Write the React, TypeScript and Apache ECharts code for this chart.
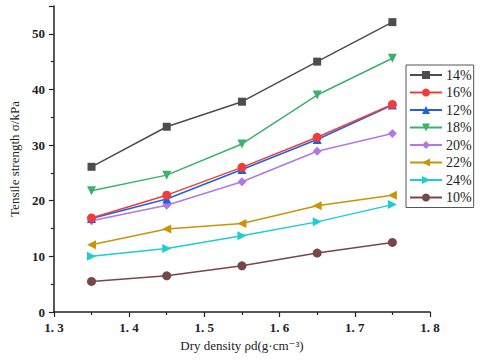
import React, { useEffect, useRef } from "react";
import * as echarts from "echarts";

const densities = [1.35, 1.45, 1.55, 1.65, 1.75];
const seriesNames = ["14%", "16%", "12%", "18%", "20%", "22%", "24%", "10%"];
const s14 = [26.1, 33.3, 37.8, 45.0, 52.1];
const s16 = [16.9, 21.0, 26.0, 31.4, 37.3];
const s12 = [16.8, 20.3, 25.6, 31.0, 37.2];
const s18 = [21.8, 24.6, 30.2, 39.0, 45.6];
const s20 = [16.4, 19.2, 23.4, 28.9, 32.1];
const s22 = [12.1, 14.9, 15.9, 19.1, 21.0];
const s24 = [10.0, 11.4, 13.7, 16.2, 19.3];
const s10 = [5.5, 6.5, 8.3, 10.6, 12.5];
const allValues = [s14, s16, s12, s18, s20, s22, s24, s10];
const colors = ["#4d4d4d", "#f23b3b", "#1f62e0", "#3cb06e", "#b277e6", "#c99507", "#1ccdd2", "#774747"];
const symbols = ["rect", "circle", "triangle", "triangle", "diamond", "triangle", "triangle", "circle"];
const rotations = [0, 0, 0, 180, 0, 90, -90, 0];

const FONT = "'Liberation Serif', 'DejaVu Serif', serif";

export default function App() {
  const ref = useRef<HTMLDivElement>(null);
  useEffect(() => {
    if (!ref.current) return;
    const chart = echarts.init(ref.current, undefined, { renderer: "svg" });
    chart.setOption({
      animation: false,
      backgroundColor: "#ffffff",
      grid: { left: 51, right: 50, top: 6, bottom: 48 },
      legend: {
        orient: "vertical",
        left: 406,
        top: 65,
        width: 68,
        borderColor: "#555",
        borderWidth: 1,
        borderRadius: 0,
        padding: [3, 2, 3, 3],
        itemWidth: 32,
        itemHeight: 10,
        itemGap: 3.5,
        data: seriesNames,
        textStyle: { fontFamily: FONT, fontSize: 14, color: "#222", lineHeight: 14, padding: [0, 0, 0, -1] },
      },
      xAxis: {
        type: "value",
        min: 1.3,
        max: 1.8,
        interval: 0.1,
        name: "Dry density ρd(g·cm⁻³)",
        nameLocation: "middle",
        nameGap: 26,
        nameTextStyle: { fontFamily: FONT, fontSize: 13, color: "#222" },
        axisLine: { lineStyle: { color: "#222", width: 1.5 } },
        axisTick: { show: true, inside: false, length: 5, lineStyle: { color: "#222", width: 1.2 } },
        minorTick: { show: true, splitNumber: 2, length: 3, lineStyle: { color: "#222", width: 1.2 } },
        splitLine: { show: false },
        axisLabel: {
          fontFamily: FONT,
          fontSize: 13,
          color: "#222",
          fontWeight: "bold",
          margin: 9,
          formatter: (v: number) => v.toFixed(1).replace(".", ". "),
        },
      },
      yAxis: {
        type: "value",
        min: 0,
        max: 55,
        interval: 10,
        name: "Tensile strength σ/kPa",
        nameLocation: "middle",
        nameGap: 30,
        nameTextStyle: { fontFamily: FONT, fontSize: 13, color: "#222" },
        axisLine: { show: true, lineStyle: { color: "#222", width: 1.5 } },
        axisTick: { show: true, inside: false, length: 5, lineStyle: { color: "#222", width: 1.2 } },
        minorTick: { show: true, splitNumber: 2, length: 3, lineStyle: { color: "#222", width: 1.2 } },
        splitLine: { show: false },
        axisLabel: {
          fontFamily: FONT,
          fontSize: 13,
          color: "#222",
          fontWeight: "bold",
          margin: 9,
          showMaxLabel: false,
          formatter: (v: number) => (v % 10 === 0 ? String(v) : ""),
        },
      },
      series: seriesNames.map((name, i) => ({
        name,
        type: "line",
        data: densities.map((d, j) => [d, allValues[i][j]]),
        symbol: symbols[i],
        symbolSize: i === 0 ? 8 : 9,
        symbolRotate: rotations[i],
        showSymbol: true,
        lineStyle: { color: colors[i], width: 1.5 },
        itemStyle: { color: colors[i] },
        z: 10 - i,
      })),
    });
    return () => chart.dispose();
  }, []);
  return <div ref={ref} style={{ width: 480, height: 360, position: "absolute", left: 0, top: 0 }} />;
}
